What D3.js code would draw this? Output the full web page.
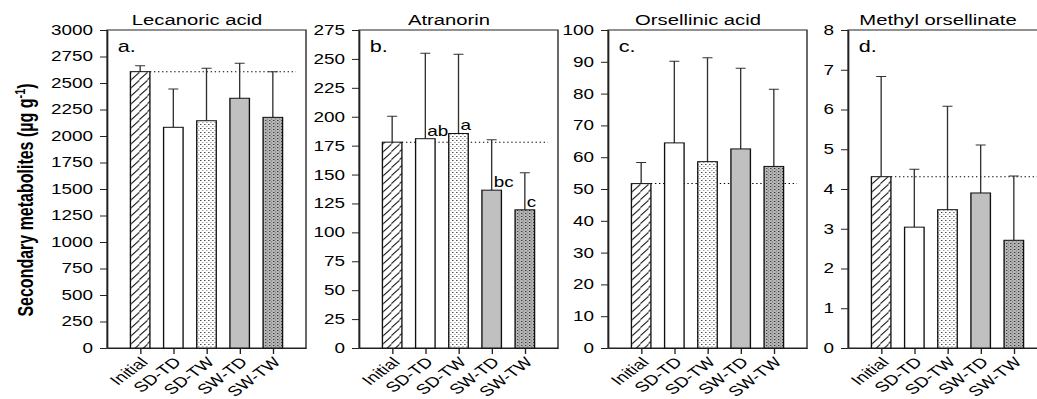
<!DOCTYPE html>
<html>
<head>
<meta charset="utf-8">
<script src="https://cdn.jsdelivr.net/npm/d3@7"></script>
<style>
  html, body { margin: 0; padding: 0; background: #fff; }
  svg { display: block; font-family: "Liberation Sans", Arial, sans-serif; }
</style>
</head>
<body>
<div id="chart"></div>
<script>
// data
const categories = ['Initial', 'SD-TD', 'SD-TW', 'SW-TD', 'SW-TW'];
const titles = ['Lecanoric acid', 'Atranorin', 'Orsellinic acid', 'Methyl orsellinate'];
const panelLetters = ['a.', 'b.', 'c.', 'd.'];
const yMaxes = [3000, 275, 100, 8];
const ySteps = [250, 25, 10, 1];

const lecanoricMean = [2607, 2082, 2144, 2356, 2176];
const lecanoricSd = [56, 361, 495, 330, 431];
const atranorinMean = [178, 181, 185.5, 136.5, 119.5];
const atranorinSd = [22.4, 73.8, 68.5, 43.6, 32.1];
const orsellinicMean = [51.7, 64.5, 58.6, 62.6, 57.1];
const orsellinicSd = [6.6, 25.7, 32.7, 25.4, 24.3];
const methylMean = [4.31, 3.04, 3.48, 3.90, 2.71];
const methylSd = [2.52, 1.46, 2.60, 1.21, 1.62];
const atranorinLetters = ['', 'ab', 'a', 'bc', 'c'];

const means = [lecanoricMean, atranorinMean, orsellinicMean, methylMean];
const sds = [lecanoricSd, atranorinSd, orsellinicSd, methylSd];
const sigLetters = [null, atranorinLetters, null, null];

// layout (the figure is stretched horizontally)
const SX = 1.35;
const width = 1037, height = 399;
const innerW = width / SX;
const plotTop = 30, plotBottom = 348;
const panelLeft = [107, 359, 608, 848].map(v => v / SX);
const panelW = 199 / SX;
const barW = 19.5 / SX;
const capW = 10 / SX;

const svg = d3.select('#chart').append('svg')
  .attr('width', width)
  .attr('height', height)
  .attr('viewBox', `0 0 ${innerW} ${height}`)
  .attr('preserveAspectRatio', 'none');

// patterns
const defs = svg.append('defs');
const hatch = defs.append('pattern').attr('id', 'hatch')
  .attr('patternUnits', 'userSpaceOnUse').attr('width', 6).attr('height', 8);
hatch.append('rect').attr('width', 6).attr('height', 8).attr('fill', '#fff');
hatch.append('path').attr('d', 'M-1,9 L7,-1').attr('stroke', '#000').attr('stroke-width', 0.8);

const dots = defs.append('pattern').attr('id', 'dots')
  .attr('patternUnits', 'userSpaceOnUse').attr('width', 3).attr('height', 4);
dots.append('rect').attr('width', 3).attr('height', 4).attr('fill', '#fff');
dots.append('rect').attr('x', 0).attr('y', 0).attr('width', 0.9).attr('height', 0.9).attr('fill', '#222');
dots.append('rect').attr('x', 1.5).attr('y', 2).attr('width', 0.9).attr('height', 0.9).attr('fill', '#777');

const grayDots = defs.append('pattern').attr('id', 'grayDots')
  .attr('patternUnits', 'userSpaceOnUse').attr('width', 3).attr('height', 3);
grayDots.append('rect').attr('width', 3).attr('height', 3).attr('fill', '#b8b8b8');
grayDots.append('rect').attr('x', 0).attr('y', 0).attr('width', 0.9).attr('height', 0.9).attr('fill', '#222');
grayDots.append('rect').attr('x', 1.5).attr('y', 1.5).attr('width', 0.9).attr('height', 0.9).attr('fill', '#555');

const fills = ['url(#hatch)', '#fff', 'url(#dots)', '#c0c0c0', 'url(#grayDots)'];

// y label
svg.append('text')
  .attr('transform', `translate(${33 / SX},200) rotate(-90)`)
  .attr('text-anchor', 'middle')
  .style('font-size', '16px')
  .style('font-weight', 'bold')
  .call(t => {
    t.append('tspan').text('Secondary metabolites (µg g');
    t.append('tspan').attr('baseline-shift', 'super').style('font-size', '11px').text('-1');
    t.append('tspan').text(')');
  });

means.forEach((mean, k) => {
  const sd = sds[k];
  const g = svg.append('g').attr('transform', `translate(${panelLeft[k]},0)`);

  const x = d3.scalePoint().domain(categories).range([0, panelW]).padding(1);
  const y = d3.scaleLinear().domain([0, yMaxes[k]]).range([plotBottom, plotTop]);

  // frame
  g.append('rect')
    .attr('x', 0).attr('y', plotTop)
    .attr('width', panelW).attr('height', plotBottom - plotTop)
    .attr('fill', 'none').attr('stroke', '#222').attr('stroke-width', 1);

  // y axis
  const yAxis = g.append('g')
    .call(d3.axisLeft(y)
      .tickValues(d3.range(0, yMaxes[k] + ySteps[k] / 2, ySteps[k]))
      .tickFormat(d3.format('d'))
      .tickSize(7 / SX).tickPadding(7 / SX).tickSizeOuter(0));
  yAxis.select('.domain').attr('stroke', '#222');
  yAxis.selectAll('line').attr('stroke', '#222');
  yAxis.selectAll('text').style('font-size', '14px').attr('fill', '#000');

  // x axis
  const xAxis = g.append('g')
    .attr('transform', `translate(0,${plotBottom})`)
    .call(d3.axisBottom(x).tickSize(6).tickSizeOuter(0));
  xAxis.select('.domain').attr('stroke', '#222');
  xAxis.selectAll('line').attr('stroke', '#222');
  xAxis.selectAll('text')
    .style('font-size', '14px')
    .attr('fill', '#000')
    .attr('text-anchor', 'end')
    .attr('x', 0).attr('y', 0).attr('dy', 0)
    .attr('transform', 'translate(6,15) rotate(-45)');

  // dotted line at initial mean
  g.append('line')
    .attr('x1', x(categories[0]) + barW / 2)
    .attr('x2', panelW - 10 / SX)
    .attr('y1', y(mean[0])).attr('y2', y(mean[0]))
    .attr('stroke', '#000').attr('stroke-width', 1)
    .attr('stroke-dasharray', '1,2');

  // error bars
  g.selectAll('.err')
    .data(categories)
    .enter()
    .append('path')
    .attr('class', 'err')
    .attr('d', (c, i) => {
      const cx = x(c), y0 = y(mean[i]), y1 = y(mean[i] + sd[i]);
      return `M${cx},${y0}V${y1}M${cx - capW / 2},${y1}H${cx + capW / 2}`;
    })
    .attr('fill', 'none').attr('stroke', '#333').attr('stroke-width', 1);

  // bars
  g.selectAll('.bar')
    .data(categories)
    .enter()
    .append('rect')
    .attr('class', 'bar')
    .attr('x', c => x(c) - barW / 2)
    .attr('y', (c, i) => y(mean[i]))
    .attr('width', barW)
    .attr('height', (c, i) => plotBottom - y(mean[i]))
    .attr('fill', (c, i) => fills[i])
    .attr('stroke', '#111').attr('stroke-width', 1);

  // significance letters
  if (sigLetters[k]) {
    g.selectAll('.sig')
      .data(categories)
      .enter()
      .append('text')
      .attr('class', 'sig')
      .attr('x', c => x(c) + 1.5)
      .attr('y', (c, i) => y(mean[i]) - 3)
      .style('font-size', '14px')
      .text((c, i) => sigLetters[k][i]);
  }

  // title
  g.append('text')
    .attr('x', panelW / 2 - 7)
    .attr('y', 25)
    .attr('text-anchor', 'middle')
    .style('font-size', '15px')
    .text(titles[k]);

  // panel letter
  g.append('text')
    .attr('x', 8)
    .attr('y', 52)
    .style('font-size', '16px')
    .text(panelLetters[k]);
});
</script>
</body>
</html>
